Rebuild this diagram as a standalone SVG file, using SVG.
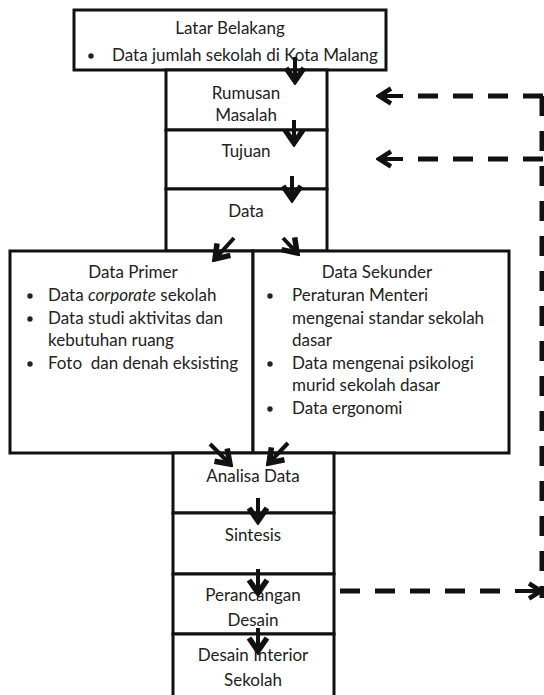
<svg xmlns="http://www.w3.org/2000/svg" width="544" height="695" viewBox="0 0 544 695">
<style>
.box{fill:#fff;stroke:#111;stroke-width:3}
text{font-family:Lato,"Open Sans","Liberation Sans",sans-serif;font-size:17px;fill:#222}
.c{text-anchor:middle}
.arr{stroke:#111;stroke-width:4;fill:none}
.dash{stroke:#111;stroke-width:5;fill:none;stroke-dasharray:20 15}
</style>
<defs>
<marker id="ah" viewBox="0 0 20 24" refX="16" refY="12" markerWidth="20" markerHeight="24" orient="auto" markerUnits="userSpaceOnUse">
<path d="M3,3 L16,12 L3,21" fill="none" stroke="#111" stroke-width="5.5"/>
</marker>
<marker id="ah2" viewBox="0 0 18 22" refX="15" refY="11" markerWidth="18" markerHeight="22" orient="auto" markerUnits="userSpaceOnUse">
<path d="M3,3.5 L15,11 L3,18.5" fill="none" stroke="#111" stroke-width="4.5"/>
</marker>
</defs>
<g id="latar">
<rect class="box" x="74" y="10" width="312" height="60"/>
<text class="c" x="230" y="34">Latar Belakang</text>
<circle cx="91" cy="56" r="2.7" fill="#222"/>
<text x="112" y="61">Data jumlah sekolah di Kota Malang</text>
</g>
<g id="rumusan">
<rect class="box" x="166" y="70" width="161" height="60"/>
<text class="c" x="246" y="99">Rumusan</text>
<text class="c" x="246" y="121">Masalah</text>
</g>
<g id="tujuan">
<rect class="box" x="166" y="130" width="161" height="59"/>
<text class="c" x="246" y="157">Tujuan</text>
</g>
<g id="data">
<rect class="box" x="166" y="189" width="161" height="62"/>
<text class="c" x="246" y="217">Data</text>
</g>
<g id="primer">
<rect class="box" x="10" y="251" width="243" height="202"/>
<text class="c" x="133" y="278">Data Primer</text>
<circle cx="30" cy="296" r="2.7" fill="#222"/>
<text x="48" y="301">Data <tspan font-style="italic">corporate</tspan> sekolah</text>
<circle cx="30" cy="319" r="2.7" fill="#222"/>
<text x="48" y="324">Data studi aktivitas dan</text>
<text x="48" y="346">kebutuhan ruang</text>
<circle cx="30" cy="364" r="2.7" fill="#222"/>
<text x="48" y="369">Foto&#160; dan denah eksisting</text>
</g>
<g id="sekunder">
<rect class="box" x="253" y="251" width="256" height="202"/>
<text class="c" x="377" y="278">Data Sekunder</text>
<circle cx="270" cy="296" r="2.7" fill="#222"/>
<text x="292" y="301">Peraturan Menteri</text>
<text x="292" y="324">mengenai standar sekolah</text>
<text x="292" y="346">dasar</text>
<circle cx="270" cy="364" r="2.7" fill="#222"/>
<text x="292" y="369">Data mengenai psikologi</text>
<text x="292" y="391">murid sekolah dasar</text>
<circle cx="270" cy="409" r="2.7" fill="#222"/>
<text x="292" y="414">Data ergonomi</text>
</g>
<g id="analisa">
<rect class="box" x="173" y="453" width="161" height="60"/>
<text class="c" x="253" y="482">Analisa Data</text>
</g>
<g id="sintesis">
<rect class="box" x="173" y="513" width="161" height="61"/>
<text class="c" x="253" y="541">Sintesis</text>
</g>
<g id="perancangan">
<rect class="box" x="173" y="574" width="161" height="60"/>
<text class="c" x="253" y="601">Perancangan</text>
<text class="c" x="253" y="626">Desain</text>
</g>
<g id="desain">
<rect class="box" x="173" y="634" width="161" height="64"/>
<text class="c" x="253" y="661">Desain Interior</text>
<text class="c" x="253" y="686">Sekolah</text>
</g>
<g id="connectors">
<line class="arr" x1="295" y1="57" x2="295" y2="81" marker-end="url(#ah)"/>
<line class="arr" x1="294" y1="120" x2="294" y2="143" marker-end="url(#ah)"/>
<line class="arr" x1="292" y1="176" x2="292" y2="199" marker-end="url(#ah)"/>
<line class="arr" x1="234" y1="238" x2="215" y2="259" marker-end="url(#ah)"/>
<line class="arr" x1="283" y1="238" x2="297" y2="253" marker-end="url(#ah)"/>
<line class="arr" x1="210" y1="444" x2="230" y2="464" marker-end="url(#ah)"/>
<line class="arr" x1="288" y1="443" x2="269" y2="463" marker-end="url(#ah)"/>
<line class="arr" x1="258" y1="498" x2="258" y2="521" marker-end="url(#ah)"/>
<line class="arr" x1="258" y1="569" x2="258" y2="593" marker-end="url(#ah)"/>
<line class="arr" x1="258" y1="628" x2="258" y2="651" marker-end="url(#ah)"/>
<path class="dash" d="M340,591 H500"/>
<line class="arr" stroke-width="4.5" x1="515" y1="591" x2="541" y2="591" marker-end="url(#ah2)"/>
<path class="dash" d="M542,96 V598" stroke-dasharray="22 13"/>
<path class="dash" d="M543,96 H418" stroke-dasharray="20 15"/>
<line class="arr" stroke-width="4.5" x1="403" y1="96" x2="379" y2="96" marker-end="url(#ah2)"/>
<path class="dash" d="M543,159 H418" stroke-dasharray="20 15"/>
<line class="arr" stroke-width="4.5" x1="403" y1="159" x2="379" y2="159" marker-end="url(#ah2)"/>
</g>
</svg>
